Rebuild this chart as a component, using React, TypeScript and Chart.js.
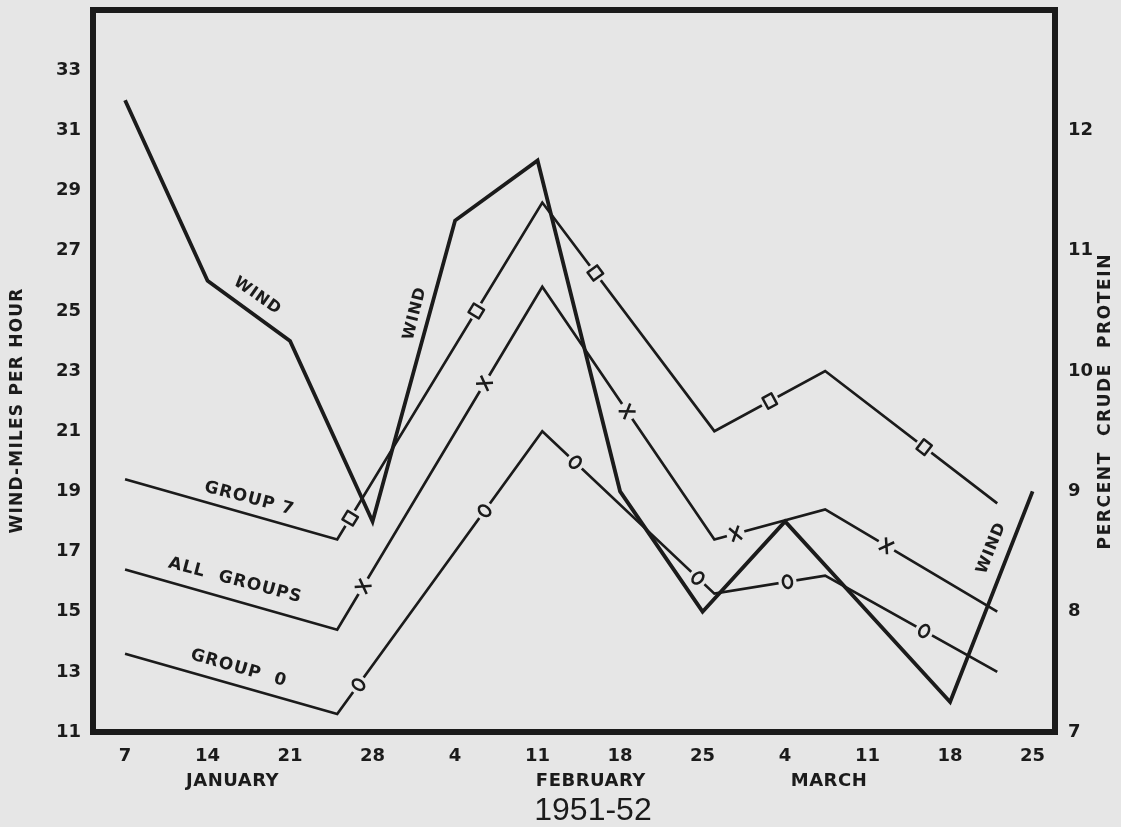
import React, { useEffect, useRef } from "react";
import { Chart, registerables } from "chart.js";

Chart.register(...registerables);

// ---------------- data ----------------
const tickDays = [0, 7, 14, 21, 28, 35, 42, 49, 56, 63, 70, 77]; // days after Jan 7
const tickLabels = ["7", "14", "21", "28", "4", "11", "18", "25", "4", "11", "18", "25"];
const monthNames = ["JANUARY", "FEBRUARY", "MARCH"];
const monthDays = [9.1, 39.5, 59.7];
const seasonLabel = "1951-52";
const seasonDay = 39.7;

const windDays = [0, 7, 14, 21, 28, 35, 42, 49, 56, 63, 70, 77];
const windMph = [32, 26, 24, 18, 28, 30, 19, 15, 18, 15, 12, 19];

const sampleDays = [0, 18, 35.4, 50, 59.4, 74];
const group7Protein = [9.1, 8.6, 11.4, 9.5, 10.0, 8.9];
const allGroupsProtein = [8.35, 7.85, 10.7, 8.6, 8.85, 8.0];
const group0Protein = [7.65, 7.15, 9.5, 8.15, 8.3, 7.5];

const windTicks = [11, 13, 15, 17, 19, 21, 23, 25, 27, 29, 31, 33];
const proteinTicks = [7, 8, 9, 10, 11, 12];

// where the line symbols sit along each protein line (days)
const group7MarkDays = [19.1, 29.8, 39.9, 54.7, 67.8];
const allGroupsMarkDays = [20.2, 30.5, 42.6, 51.8, 64.6];
const group0MarkDays = [19.8, 30.5, 38.2, 48.6, 56.2, 67.8];

// ---------------- styles ----------------
const INK = "#1b1b1b";
const BG = "#e6e6e6";
const FAMILY = "'DejaVu Sans', 'Liberation Sans', sans-serif";
const TICK_FONT = { family: FAMILY, size: 18, weight: "bold" as const };

const lineLabels = [
  { text: "WIND", day: 11.2, value: 25.5, axis: "y", angle: 35 },
  { text: "WIND", day: 24.6, value: 24.9, axis: "y", angle: -76 },
  { text: "WIND", day: 73.5, value: 17.1, axis: "y", angle: -68 },
  { text: "GROUP 7", day: 10.5, value: 8.94, axis: "y1", angle: 14.6 },
  { text: "ALL  GROUPS", day: 9.3, value: 8.26, axis: "y1", angle: 14.8 },
  { text: "GROUP  0", day: 9.6, value: 7.53, axis: "y1", angle: 15.9 },
];

const markerSets = [
  { dataset: 1, days: group7MarkDays, kind: "square" },
  { dataset: 2, days: allGroupsMarkDays, kind: "cross" },
  { dataset: 3, days: group0MarkDays, kind: "circle" },
];

function drawMarker(ctx: CanvasRenderingContext2D, x: number, y: number, ang: number, kind: string) {
  ctx.save();
  ctx.translate(x, y);
  ctx.rotate(ang);
  ctx.fillStyle = BG;
  ctx.fillRect(-9, -3, 18, 6);
  ctx.strokeStyle = INK;
  ctx.lineWidth = 2.5;
  ctx.lineJoin = "round";
  if (kind === "square") {
    ctx.strokeRect(-5, -6, 10, 12);
  } else if (kind === "circle") {
    ctx.beginPath();
    ctx.ellipse(0, 0, 4.5, 6.3, 0, 0, Math.PI * 2);
    ctx.stroke();
  } else {
    ctx.beginPath();
    ctx.moveTo(-4.8, -7);
    ctx.lineTo(4.8, 7);
    ctx.moveTo(4.8, -7);
    ctx.lineTo(-4.8, 7);
    ctx.stroke();
  }
  ctx.restore();
}

function drawText(
  ctx: CanvasRenderingContext2D,
  text: string,
  x: number,
  y: number,
  angleDeg: number,
  font: string,
  spacing = 0
) {
  ctx.save();
  ctx.translate(x, y);
  ctx.rotate((angleDeg * Math.PI) / 180);
  ctx.font = font;
  (ctx as any).letterSpacing = spacing + "px";
  ctx.textAlign = "center";
  ctx.textBaseline = "middle";
  ctx.fillStyle = INK;
  ctx.fillText(text, spacing / 2, 0);
  ctx.restore();
}

const decorPlugin = {
  id: "decor",
  beforeDraw(chart: any) {
    const { ctx, width, height } = chart;
    ctx.save();
    ctx.fillStyle = BG;
    ctx.fillRect(0, 0, width, height);
    ctx.restore();
  },
  afterDatasetsDraw(chart: any) {
    const { ctx, chartArea: a, scales } = chart;
    const xs = scales.x;
    markerSets.forEach((set) => {
      const pts = chart.getDatasetMeta(set.dataset).data;
      set.days.forEach((d) => {
        const px = xs.getPixelForValue(d);
        for (let i = 0; i < pts.length - 1; i++) {
          const p0 = pts[i];
          const p1 = pts[i + 1];
          if (px >= p0.x && px <= p1.x) {
            const t = (px - p0.x) / (p1.x - p0.x);
            const py = p0.y + t * (p1.y - p0.y);
            drawMarker(ctx, px, py, Math.atan2(p1.y - p0.y, p1.x - p0.x), set.kind);
            break;
          }
        }
      });
    });
    // frame
    ctx.save();
    ctx.strokeStyle = INK;
    ctx.lineWidth = 6;
    ctx.lineJoin = "miter";
    ctx.strokeRect(a.left, a.top, a.right - a.left, a.bottom - a.top);
    ctx.restore();
  },
  afterDraw(chart: any) {
    const { ctx, chartArea: a, scales } = chart;
    const xs = scales.x;
    lineLabels.forEach((l) => {
      drawText(
        ctx,
        l.text,
        xs.getPixelForValue(l.day),
        scales[l.axis].getPixelForValue(l.value),
        l.angle,
        `bold ${l.text === "WIND" ? 16 : 17}px ${FAMILY}`,
        1
      );
    });
    monthNames.forEach((m, i) => {
      drawText(ctx, m, xs.getPixelForValue(monthDays[i]), a.bottom + 49, 0, `bold 18px ${FAMILY}`, 0.5);
    });
    drawText(ctx, seasonLabel, xs.getPixelForValue(seasonDay), a.bottom + 79, 0, `32px 'Liberation Sans', ${FAMILY}`, 0);
    drawText(ctx, "WIND-MILES PER HOUR", 18, 411, -90, `bold 17px ${FAMILY}`, 1.2);
    drawText(ctx, "PERCENT  CRUDE  PROTEIN", 1106, 402, -90, `bold 17px ${FAMILY}`, 1.6);
  },
};

function zeroPad(s: any) {
  s.paddingTop = 0;
  s.paddingBottom = 0;
  s.paddingLeft = 0;
  s.paddingRight = 0;
}

export default function App() {
  const ref = useRef<HTMLCanvasElement | null>(null);

  useEffect(() => {
    document.documentElement.style.background = BG;
    document.body.style.margin = "0";
    document.body.style.background = BG;
    if (!ref.current) return;

    const lineStyle = { borderColor: INK, pointRadius: 0, tension: 0, fill: false, borderJoinStyle: "miter" as const };

    const chart = new Chart(ref.current, {
      type: "line",
      data: {
        datasets: [
          {
            label: "Wind",
            data: windDays.map((d, i) => ({ x: d, y: windMph[i] })),
            yAxisID: "y",
            borderWidth: 3.8,
            ...lineStyle,
          },
          {
            label: "Group 7",
            data: sampleDays.map((d, i) => ({ x: d, y: group7Protein[i] })),
            yAxisID: "y1",
            borderWidth: 2.7,
            ...lineStyle,
          },
          {
            label: "All groups",
            data: sampleDays.map((d, i) => ({ x: d, y: allGroupsProtein[i] })),
            yAxisID: "y1",
            borderWidth: 2.7,
            ...lineStyle,
          },
          {
            label: "Group 0",
            data: sampleDays.map((d, i) => ({ x: d, y: group0Protein[i] })),
            yAxisID: "y1",
            borderWidth: 2.7,
            ...lineStyle,
          },
        ],
      },
      options: {
        responsive: false,
        animation: false,
        devicePixelRatio: 1,
        layout: { padding: { top: 10, left: 0, right: 0, bottom: 0 } },
        plugins: { legend: { display: false }, tooltip: { enabled: false } },
        scales: {
          x: {
            type: "linear",
            min: -2.72,
            max: 78.9,
            grid: { display: false, drawTicks: false },
            border: { display: false },
            afterBuildTicks: (s: any) => {
              s.ticks = tickDays.map((v) => ({ value: v }));
            },
            afterFit: (s: any) => {
              s.height = 95;
              zeroPad(s);
            },
            ticks: {
              autoSkip: false,
              maxRotation: 0,
              padding: 14,
              color: INK,
              font: TICK_FONT,
              callback: (v: any) => tickLabels[tickDays.indexOf(Number(v))],
            },
          },
          y: {
            type: "linear",
            position: "left",
            min: 11,
            max: 35,
            grid: { display: false, drawTicks: false },
            border: { display: false },
            afterBuildTicks: (s: any) => {
              s.ticks = windTicks.map((v) => ({ value: v }));
            },
            afterFit: (s: any) => {
              s.width = 93;
              zeroPad(s);
            },
            ticks: { padding: 12, color: INK, font: TICK_FONT },
          },
          y1: {
            type: "linear",
            position: "right",
            min: 7,
            max: 13,
            grid: { display: false, drawTicks: false },
            border: { display: false },
            afterBuildTicks: (s: any) => {
              s.ticks = proteinTicks.map((v) => ({ value: v }));
            },
            afterFit: (s: any) => {
              s.width = 66;
              zeroPad(s);
            },
            ticks: { padding: 13, color: INK, font: TICK_FONT },
          },
        },
      },
      plugins: [decorPlugin],
    });
    return () => chart.destroy();
  }, []);

  return (
    <div style={{ width: 1121, height: 827, background: BG }}>
      <canvas ref={ref} width={1121} height={827} style={{ display: "block" }} />
    </div>
  );
}
